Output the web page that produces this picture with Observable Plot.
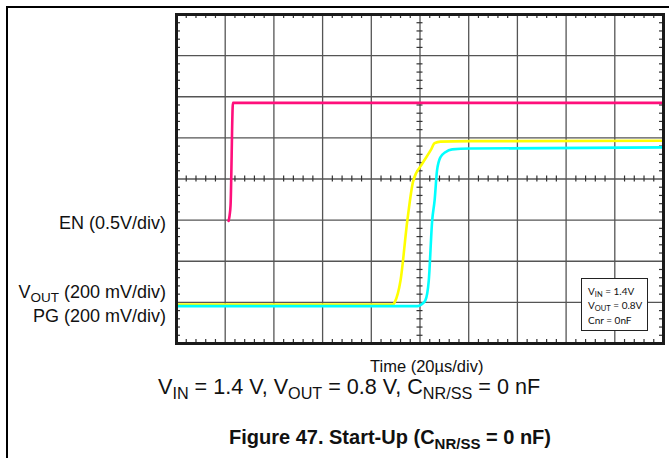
<!DOCTYPE html>
<html><head><meta charset="utf-8">
<script src="https://cdn.jsdelivr.net/npm/d3@7"></script>
<script src="https://cdn.jsdelivr.net/npm/@observablehq/plot@0.6"></script>
<style>
html,body{margin:0;padding:0;background:#fff;}
#wrap{position:relative;width:669px;height:458px;overflow:hidden;font-family:"Liberation Sans",Arial,sans-serif;color:#111;}
#wrap svg{position:absolute;left:0;top:0;}
.lbl{position:absolute;white-space:nowrap;line-height:1;}
.lbl sub{font-size:0.75em;vertical-align:-0.3em;line-height:0;}
#pageframe{position:absolute;left:6px;top:6px;width:680px;height:460px;border-left:2px solid #000;border-top:2px solid #000;}
#legend{position:absolute;left:581px;top:278px;width:65px;height:51px;background:#fff;border:1px solid #222;font-family:Lato,"Open Sans",sans-serif;font-size:10px;color:#111;}
#legend div{position:absolute;left:6px;white-space:nowrap;line-height:1;}
#legend sub{font-size:0.75em;vertical-align:-0.3em;line-height:0;}
</style></head>
<body>
<div id="wrap"><div id="pageframe"></div></div>
<script>
// Oscilloscope divisions: x 0..10 (20 µs/div), y 0..8
const xDivs = [0,1,2,3,4,5,6,7,8,9,10];
const yDivs = [0,1,2,3,4,5,6,7,8];

// EN trace (0.5 V/div), in divisions
const enX = [1.07, 1.09, 1.11, 1.16, 10];
const enY = [2.98, 3.11, 3.36, 5.85, 5.85];

// VOUT trace (200 mV/div)
const voutX = [0, 4.45, 4.48, 4.60, 4.74, 4.86, 5.04, 5.22, 5.30, 5.42, 6.04, 10];
const voutY = [0.95, 0.95, 1.00, 1.53, 2.99, 3.95, 4.36, 4.70, 4.87, 4.91, 4.92, 4.93];

// PG trace (200 mV/div)
const pgX = [0, 4.95, 5.03, 5.11, 5.18, 5.25, 5.30, 5.35, 5.42, 5.52, 5.66, 6.04, 10];
const pgY = [0.91, 0.91, 0.95, 1.05, 1.53, 2.99, 3.48, 4.21, 4.53, 4.65, 4.72, 4.74, 4.77];

const en = enX.map((x,i)=>({x, y: enY[i]}));
const vout = voutX.map((x,i)=>({x, y: voutY[i]}));
const pg = pgX.map((x,i)=>({x, y: pgY[i]}));

const minorX = d3.range(0, 50).map(i => i/5).filter(v => v % 1 !== 0);
const minorY = d3.range(0, 40).map(i => i/5).filter(v => v % 1 !== 0);

const W = 669, H = 458;
const mL = 176, mR = 6, mT = 14, mB = 115;
const pxX = (W - mL - mR) / 10;   // px per x div
const pxY = (H - mT - mB) / 8;    // px per y div
const tx = 4 / pxX, ty = 4 / pxY;  // border tick lengths in divs
const cx = 3 / pxX, cy = 3 / pxY;  // center tick half lengths

const plot = Plot.plot({
  width: W, height: H,
  marginLeft: mL, marginRight: mR, marginTop: mT, marginBottom: mB,
  x: {domain: [0, 10], axis: null},
  y: {domain: [0, 8], axis: null},
  marks: [
    Plot.ruleX(xDivs, {x: d => d, stroke: "#555", strokeWidth: 1.3}),
    Plot.ruleY(yDivs, {y: d => d, stroke: "#555", strokeWidth: 1.3}),
    // center axis minor ticks
    Plot.ruleX(minorX, {x: d => d, y1: 4 - cy, y2: 4 + cy, stroke: "#333", strokeWidth: 1.2}),
    Plot.ruleY(minorY, {y: d => d, x1: 5 - cx, x2: 5 + cx, stroke: "#333", strokeWidth: 1.2}),
    // border minor ticks
    Plot.ruleX(minorX, {x: d => d, y1: 8 - ty, y2: 8, stroke: "#333", strokeWidth: 1.2}),
    Plot.ruleX(minorX, {x: d => d, y1: 0, y2: ty, stroke: "#333", strokeWidth: 1.2}),
    Plot.ruleY(minorY, {y: d => d, x1: 0, x2: tx, stroke: "#333", strokeWidth: 1.2}),
    Plot.ruleY(minorY, {y: d => d, x1: 10 - tx, x2: 10, stroke: "#333", strokeWidth: 1.2}),
    Plot.line(en, {x: "x", y: "y", stroke: "#ff0f7b", strokeWidth: 2.6, curve: "monotone-x"}),
    Plot.line(vout, {x: "x", y: "y", stroke: "#ffff00", strokeWidth: 2.6, curve: "monotone-x"}),
    Plot.line(pg, {x: "x", y: "y", stroke: "#00ffff", strokeWidth: 2.6, curve: "monotone-x"}),
    Plot.frame({stroke: "#1a1a1a", strokeWidth: 3})
  ]
});
const wrap = document.getElementById("wrap");
wrap.appendChild(plot);

function label(html, css) {
  const d = document.createElement("div");
  d.className = "lbl";
  d.innerHTML = html;
  Object.assign(d.style, css);
  wrap.appendChild(d);
  return d;
}
label("EN (0.5V/div)", {right: (W-166)+"px", top: "214px", fontSize: "18px"});
label("V<sub>OUT</sub> (200 mV/div)", {right: (W-166)+"px", top: "283px", fontSize: "18px"});
label("PG (200 mV/div)", {right: (W-166)+"px", top: "307px", fontSize: "18px"});
label("Time (20µs/div)", {left: "370px", top: "358px", fontSize: "16.5px"});
label("V<sub>IN</sub> = 1.4 V, V<sub>OUT</sub> = 0.8 V, C<sub>NR/SS</sub> = 0 nF", {left: "158px", top: "376px", fontSize: "21.6px"});
label("Figure 47. Start-Up (C<sub>NR/SS</sub> = 0 nF)", {left: "229px", top: "427px", fontSize: "20px", fontWeight: "bold"});

const lg = document.createElement("div");
lg.id = "legend";
lg.innerHTML = '<div style="top:7px">V<sub>IN</sub> = 1.4V</div><div style="top:21px">V<sub>OUT</sub> = 0.8V</div><div style="top:36px">Cnr = 0nF</div>';
wrap.appendChild(lg);
</script>
</body></html>
